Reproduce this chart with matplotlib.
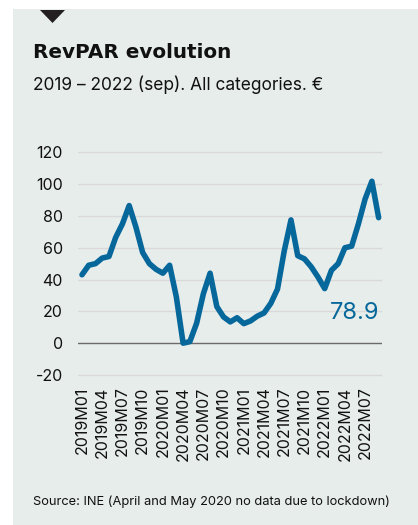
import matplotlib
matplotlib.use("Agg")
import matplotlib.pyplot as plt
from matplotlib.patches import Rectangle, Polygon

plt.rcParams['font.family'] = ['Inter', 'DejaVu Sans']

W, H = 418, 525
DPI = 100

# Monthly RevPAR (EUR), 2019M01 .. 2022M09
revpar = [43, 49, 50, 53.5, 54.5, 66.5, 75, 86.5, 73, 57, 50, 46.4,
          44, 49, 29, 0, 1, 12.5, 31, 44, 23, 16.5, 13.4, 16,
          12.3, 14, 17, 19, 25, 34, 58, 77.5, 55, 53, 48, 41.6,
          34.3, 45.8, 50, 60, 61, 75, 90.7, 101.8, 78.9]
tick_labels = ["2019M01", "2019M04", "2019M07", "2019M10",
               "2020M01", "2020M04", "2020M07", "2020M10",
               "2021M01", "2021M04", "2021M07", "2021M10",
               "2022M01", "2022M04", "2022M07"]
y_ticks = [-20, 0, 20, 40, 60, 80, 100, 120]
last_label = "78.9"

BG = '#E7EDEB'
BLUE = '#06679B'

fig = plt.figure(figsize=(W / DPI, H / DPI), dpi=DPI, facecolor='white')

def fx(px):
    return px / W

def fy(py):
    return 1 - py / H

# background panel
fig.patches.append(Rectangle((fx(13), 0), 1 - fx(13), fy(9), transform=fig.transFigure,
                             facecolor=BG, edgecolor='none', zorder=-10))
# triangle marker
fig.patches.append(Polygon([(fx(40), fy(10)), (fx(65), fy(10)), (fx(52.5), fy(23))],
                           closed=True, transform=fig.transFigure,
                           facecolor='#231F20', edgecolor='none', zorder=-5))

fig.text(fx(33), fy(58), "RevPAR evolution", fontsize=14.4, fontweight='bold',
         family=['DejaVu Sans'], color='#111111', va='baseline', ha='left')
fig.text(fx(33), fy(89.5), "2019 \u2013 2022 (sep). All categories. \u20ac", fontsize=12.5,
         color='#111111', va='baseline', ha='left')
fig.text(fx(33), fy(505), "Source: INE (April and May 2020 no data due to lockdown)",
         fontsize=9.25, color='#111111', va='baseline', ha='left')

ax = fig.add_axes([fx(78), fy(378.2), fx(382) - fx(78), fy(149.1) - fy(378.2)])
ax.set_zorder(5)
ax.set_facecolor('none')
x = list(range(len(revpar)))
ax.plot(x, revpar, color=BLUE, linewidth=4.0, solid_joinstyle='round',
        solid_capstyle='round', zorder=3)
ax.set_xlim(-0.59, 44.5)
ax.set_ylim(-22, 122)
ax.set_yticks(y_ticks)
ax.set_yticklabels([str(v) for v in y_ticks])
ax.set_xticks(list(range(0, len(tick_labels) * 3, 3)))
ax.set_xticklabels(tick_labels, rotation=90, va='top', ha='center')
for v in y_ticks:
    if v == 0:
        ax.axhline(v, color='#6b6b6b', linewidth=1.0, zorder=2)
    else:
        ax.axhline(v, color='#d9d9d9', linewidth=1.0, zorder=1)
for s in ax.spines.values():
    s.set_visible(False)
ax.tick_params(axis='both', length=0, labelsize=11.5, colors='#111111')
ax.tick_params(axis='y', pad=11)
ax.tick_params(axis='x', pad=6)

ax.text(x[-1] + 0.1, 18.7, last_label, color=BLUE, fontsize=17, ha='right', va='center')

fig.savefig('out.png', dpi=DPI, facecolor='white')
